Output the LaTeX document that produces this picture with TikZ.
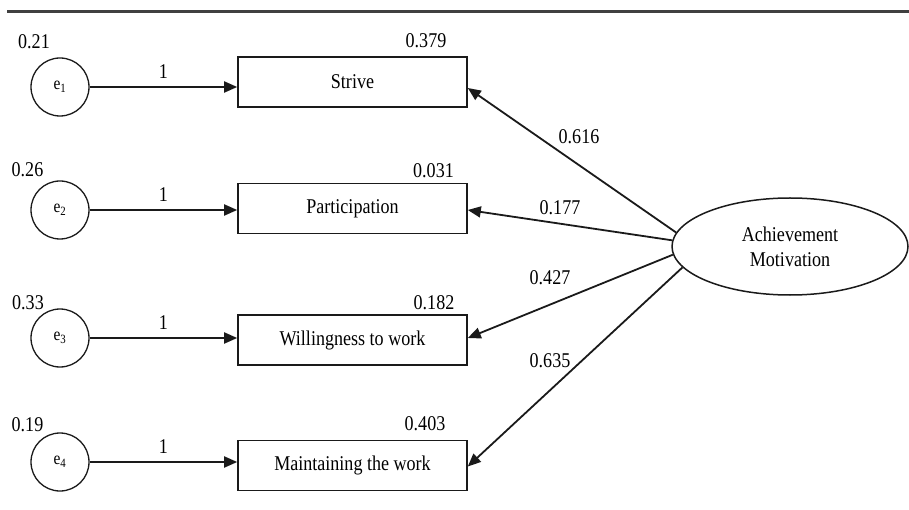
\documentclass[tikz,border=0pt]{standalone}
\usepackage{fontspec}
\setmainfont[FakeStretch=0.86]{Liberation Serif}
\usetikzlibrary{shapes.geometric,arrows.meta}
\definecolor{ink}{HTML}{1A1A1A}
\tikzset{
  every node/.style={font=\fontsize{21}{25}\selectfont, text=black},
  errc/.style={draw=ink, line width=1.3pt, circle, minimum size=58pt, inner sep=0pt},
  obsbox/.style={draw=ink, line width=1.6pt, rectangle, minimum width=229pt, minimum height=50pt, inner sep=0pt},
  latent/.style={draw=ink, line width=1.5pt, ellipse, minimum width=236pt, minimum height=97pt, inner sep=0pt, align=center},
  arr/.style={draw=ink, line width=1.8pt, -{Triangle[length=13pt,width=11pt]}},
  lbl/.style={inner sep=0pt},
}
\begin{document}
\begin{tikzpicture}[x=1pt,y=-1pt]
\useasboundingbox (0,0) rectangle (909,510);
% top rule
\coordinate (ruleL) at (7,11.5);
\coordinate (ruleR) at (909,11.5);
\draw[line width=2.6pt, draw=black!75] (ruleL) -- (ruleR);

% error terms
\node[errc] (e1) at (60,87)  {\fontsize{18}{20}\selectfont e\textsubscript{1}};
\node[errc] (e2) at (60,210) {\fontsize{18}{20}\selectfont e\textsubscript{2}};
\node[errc] (e3) at (60,338) {\fontsize{18}{20}\selectfont e\textsubscript{3}};
\node[errc] (e4) at (60,462) {\fontsize{18}{20}\selectfont e\textsubscript{4}};

% variances
\node[lbl] (v1) at (34,42)    {0.21};
\node[lbl] (v2) at (27.5,170) {0.26};
\node[lbl] (v3) at (28,302.5) {0.33};
\node[lbl] (v4) at (27.5,424.5) {0.19};

% observed variables
\node[obsbox] (b1) at (352.5,82)    {Strive};
\node[obsbox] (b2) at (352.5,208.5) {Participation};
\node[obsbox] (b3) at (352.5,340)   {Willingness to work};
\node[obsbox] (b4) at (352.5,465.5) {Maintaining the work};

% R-squared
\node[lbl] (r1) at (426,41)    {0.379};
\node[lbl] (r2) at (433.5,170.5) {0.031};
\node[lbl] (r3) at (434,302.5) {0.182};
\node[lbl] (r4) at (425,424)   {0.403};

% latent
\node[latent] (am) at (790,246.5) {Achievement\\Motivation};

% error arrows
\draw[arr] (e1) -- (e1 -| b1.west) node[midway, above=8pt, lbl] (w1) {1};
\draw[arr] (e2) -- (e2 -| b2.west) node[midway, above=8pt, lbl] (w2) {1};
\draw[arr] (e3) -- (e3 -| b3.west) node[midway, above=8pt, lbl] (w3) {1};
\draw[arr] (e4) -- (e4 -| b4.west) node[midway, above=8pt, lbl] (w4) {1};

% loadings
\draw[arr] (am.173.4) -- ([yshift=-6pt]b1.east);
\draw[arr] (am.177.7) -- ([yshift=-1.5pt]b2.east);
\draw[arr] (am.184.1) -- ([yshift=2pt]b3.east);
\draw[arr] (am.191.4) -- ([yshift=-1pt]b4.east);

\node[lbl] (l1) at (579,136.5) {0.616};
\node[lbl] (l2) at (560,208)   {0.177};
\node[lbl] (l3) at (550,278)   {0.427};
\node[lbl] (l4) at (550,361)   {0.635};
\end{tikzpicture}
\end{document}
